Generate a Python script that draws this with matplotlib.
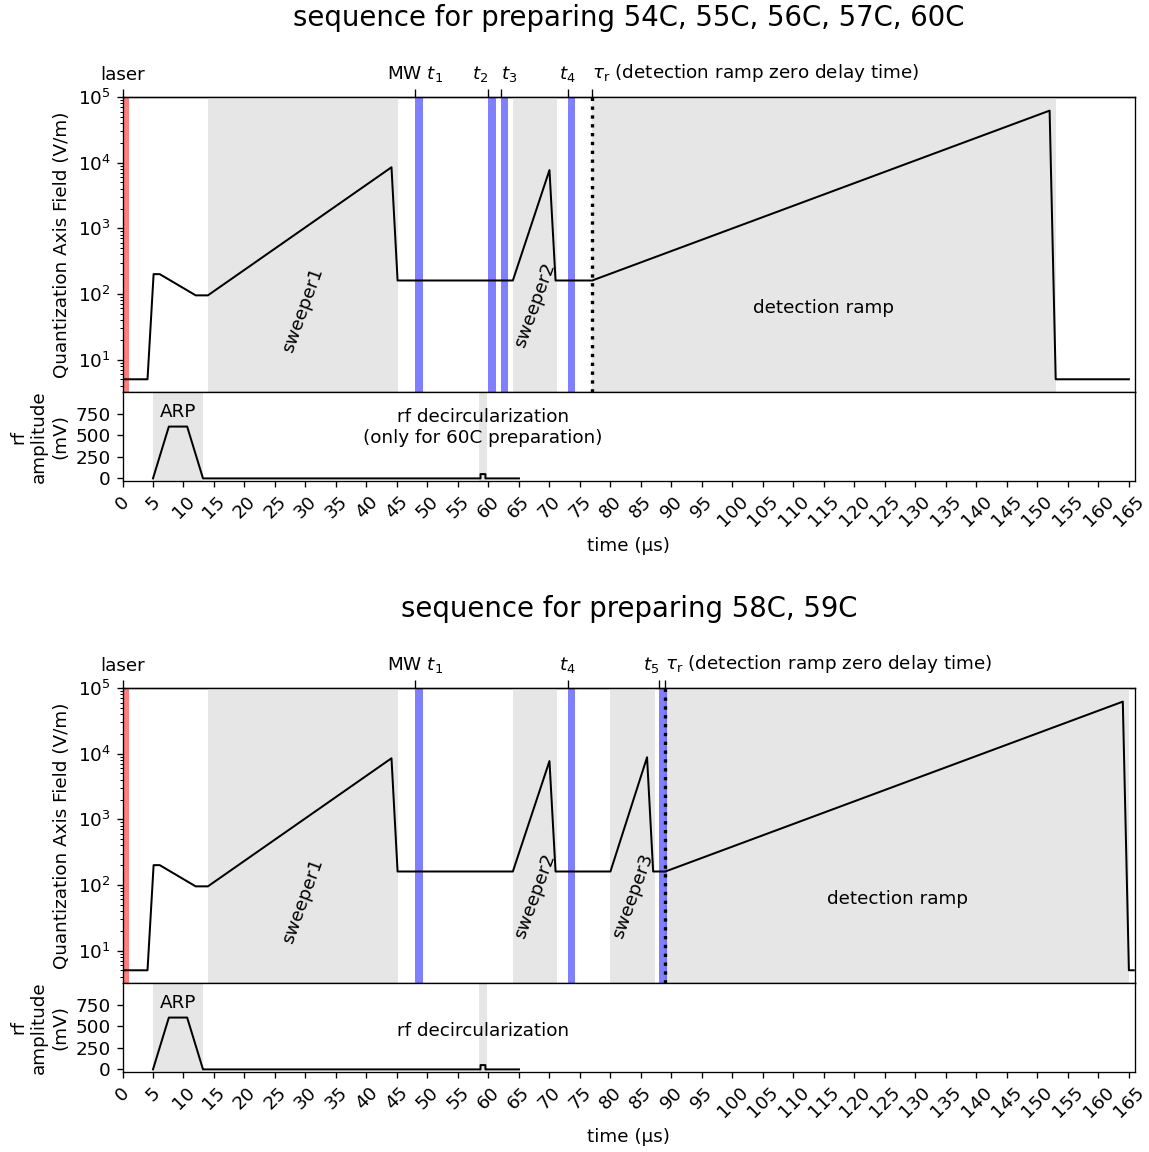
import numpy as np
import matplotlib.pyplot as plt

# quantization axis field, sequence A (54C, 55C, 56C, 57C, 60C)
field_t_a = [0, 4.1, 5.1, 6.1, 12, 14, 44.1, 45.1, 64, 70, 71, 77, 152, 153, 165]
field_v_a = [5, 5, 200, 200, 95, 95, 8500, 160, 160, 7700, 160, 160, 62000, 5, 5]
# sequence B (58C, 59C)
field_t_b = [0, 4.1, 5.1, 6.1, 12, 14, 44.1, 45.1, 64, 70, 71, 80, 86, 87, 89, 164, 165, 165.8]
field_v_b = [5, 5, 200, 200, 95, 95, 8500, 160, 160, 7700, 160, 160, 8800, 160, 160, 62000, 5, 5]

# rf amplitude (same for both)
rf_t = [5, 7.6, 10.6, 13.2, 58.7, 58.7, 59.5, 59.5, 65]
rf_v = [0, 600, 600, 0, 0, 50, 50, 0, 0]
arp_span = (5, 13.2)
decirc_span = (58.5, 59.7)

laser_span = (0, 1.1)
mw_width = 1.2

sweeps_a = [(14, 45.2, 'sweeper1'), (64, 71.2, 'sweeper2'), (77, 153, 'detection ramp')]
sweeps_b = [(14, 45.2, 'sweeper1'), (64, 71.2, 'sweeper2'), (80, 87.3, 'sweeper3'),
            (89, 165, 'detection ramp')]

mw_a = [48, 60, 62, 73]
mw_b = [48, 73, 88]
tau_a = 77
tau_b = 89

tau_label = r'$\tau_\mathrm{r}$ (detection ramp zero delay time)'
marks_a = [0, 48, 60, 62, 73, 77]
mark_labels_a = ['laser', 'MW $t_1$', '$t_2$', '$t_3$', '$t_4$', tau_label]
mark_ha_a = ['center', 'center', 'right', 'left', 'center', 'left']
marks_b = [0, 48, 73, 88, 89]
mark_labels_b = ['laser', 'MW $t_1$', '$t_4$', '$t_5$', tau_label]
mark_ha_b = ['center', 'center', 'center', 'right', 'left']

plt.rcParams['font.size'] = 11

W, H = 1149, 1152
fig = plt.figure(figsize=(W / 120, H / 120), dpi=120)


def rect(l, t, r, b):
    return [l / W, 1 - b / H, (r - l) / W, (b - t) / H]


def draw_sequence(top, title, field_t, field_v, sweeps, mw, tau,
                  marks, mark_labels, mark_ha, rf_text, rf_text_y):
    ax = fig.add_axes(rect(122.5, top, 1135, top + 295))
    ax_rf = fig.add_axes(rect(122.5, top + 295, 1135, top + 384), sharex=ax)

    ax.set_yscale('log')
    ax.set_ylim(3.2, 1e5)
    ax.set_xlim(0, 166)

    ax.axvspan(*laser_span, color='red', alpha=0.5, lw=0)
    for start, stop, name in sweeps:
        ax.axvspan(start, stop, color='0.9', lw=0)
        if name == 'detection ramp':
            ax.text((start + stop) / 2, 60, name, ha='center', va='center')
        else:
            y = 56 if name == 'sweeper1' else 67
            ax.text((start + stop) / 2, y, name, ha='center', va='center', rotation=70)
    for t in mw:
        ax.axvspan(t, t + mw_width, color='blue', alpha=0.5, lw=0)
    ax.axvline(tau, color='k', ls=':', lw=2)
    ax.plot(field_t, field_v, color='k', lw=1.2)

    ax.set_ylabel('Quantization Axis Field (V/m)')
    ax.tick_params(axis='x', bottom=False, labelbottom=False)

    sec = ax.secondary_xaxis('top')
    sec.set_xticks(marks, mark_labels)
    sec.tick_params(length=5, pad=2.5)
    for lbl, ha in zip(sec.get_xticklabels(), mark_ha):
        lbl.set_ha(ha)

    fig.text((122.5 + 1135) / 2 / W, 1 - (top - 79) / H, title,
             ha='center', va='center', fontsize=16.5)

    ax_rf.axvspan(*arp_span, color='0.9', lw=0)
    ax_rf.axvspan(*decirc_span, color='0.9', lw=0)
    ax_rf.plot(rf_t, rf_v, color='k', lw=1.2)
    ax_rf.text(sum(arp_span) / 2, 770, 'ARP', ha='center', va='center')
    ax_rf.text(59.1, rf_text_y, rf_text, ha='center', va='center')
    ax_rf.set_ylim(-30, 1000)
    ax_rf.set_yticks([0, 250, 500, 750])
    ax_rf.set_xticks(np.arange(0, 166, 5))
    ax_rf.tick_params(axis='x', labelrotation=45)
    ax_rf.set_xlim(0, 166)
    ax_rf.set_ylabel('rf\namplitude\n(mV)')
    ax_rf.set_xlabel('time (µs)')
    fig.align_ylabels([ax, ax_rf])


draw_sequence(97, 'sequence for preparing 54C, 55C, 56C, 57C, 60C',
              field_t_a, field_v_a, sweeps_a, mw_a, tau_a,
              marks_a, mark_labels_a, mark_ha_a,
              'rf decircularization\n(only for 60C preparation)', 590)
draw_sequence(688, 'sequence for preparing 58C, 59C',
              field_t_b, field_v_b, sweeps_b, mw_b, tau_b,
              marks_b, mark_labels_b, mark_ha_b,
              'rf decircularization', 450)

fig.savefig('out.png', dpi=120)
